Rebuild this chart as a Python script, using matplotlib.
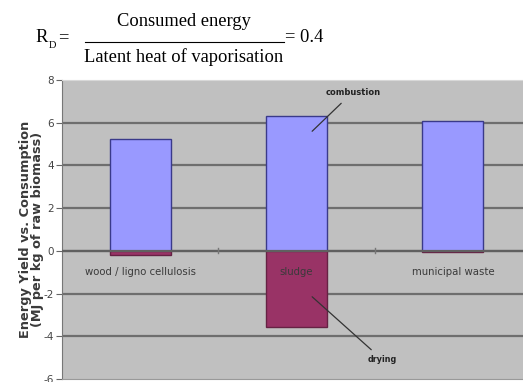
import matplotlib
matplotlib.use("Agg")
import matplotlib.pyplot as plt
import numpy as np

categories = ["wood / ligno cellulosis", "sludge", "municipal waste"]
combustion = [5.25, 6.32, 6.08]
drying = [-0.2, -3.55, -0.05]
yticks = [-6, -4, -2, 0, 2, 4, 6, 8]

W, H = 523, 382
fig = plt.figure(figsize=(W / 100, H / 100), dpi=100)
fig.patch.set_facecolor("white")

def fx(px):
    return px / W

def fy(py):
    return 1 - py / H

ax = fig.add_axes([fx(62), fy(379), fx(531) - fx(62), fy(80) - fy(379)])
ax.set_facecolor("#c0c0c0")
x = np.arange(len(categories))
ax.bar(x, combustion, width=0.39, color="#9999ff", edgecolor="#3a3a8a", linewidth=1.0, zorder=3)
ax.bar(x, drying, width=0.39, color="#993366", edgecolor="#662244", linewidth=1.0, zorder=3)
ax.set_xlim(-0.5, 2.5)
ax.set_ylim(-6, 8)
ax.set_yticks(yticks)
ax.set_yticklabels([str(v) for v in yticks], fontsize=7.5, color="#444444")
ax.tick_params(axis="y", length=4, color="#666666", pad=1.5)
ax.set_xticks([])
for v in yticks[1:-1]:
    ax.axhline(v, color="#6e6e6e", linewidth=1.6, zorder=1)
ax.axhline(0, color="#606060", linewidth=1.6, zorder=4)
for b in [0.5, 1.5]:
    ax.plot([b, b], [-0.12, 0.12], color="#777777", linewidth=1, zorder=4)
for s in ["top", "right"]:
    ax.spines[s].set_color("#d8d8d8")
ax.spines["left"].set_color("#777777")
ax.spines["bottom"].set_color("#999999")

for i, c in enumerate(categories):
    ax.text(i, -1.0, c, ha="center", va="center", fontsize=7.3, color="#3a3a3a", zorder=5)

ax.set_ylabel("Energy Yield vs. Consumption\n(MJ per kg of raw biomass)", fontsize=9.3,
              fontweight="bold", color="#3a3a3a", labelpad=0, linespacing=0.9)

ax.annotate("combustion", xy=(1.1, 5.6), xytext=(1.36, 7.43), fontsize=6, fontweight="bold",
            ha="center", va="center", color="#222222",
            arrowprops=dict(arrowstyle="-", color="#333333", lw=0.9, shrinkA=4, shrinkB=0), zorder=6)
ax.annotate("drying", xy=(1.1, -2.15), xytext=(1.55, -5.1), fontsize=5.8, fontweight="bold",
            ha="center", va="center", color="#222222",
            arrowprops=dict(arrowstyle="-", color="#333333", lw=0.9, shrinkA=3, shrinkB=0), zorder=6)

serif = "Liberation Serif"
fs = 13.3
fig.text(fx(35), fy(38), "R", fontsize=fs, family=serif, ha="left", va="center")
fig.text(fx(49), fy(45), "D", fontsize=7.5, family=serif, ha="left", va="center")
fig.text(fx(58), fy(38), "=", fontsize=fs, family=serif, ha="left", va="center")
fig.text(fx(184), fy(22), "Consumed energy", fontsize=fs, family=serif, ha="center", va="center")
fig.add_artist(plt.Line2D([fx(85), fx(284)], [fy(42), fy(42)], color="black", lw=0.8))
fig.text(fx(184), fy(57), "Latent heat of vaporisation", fontsize=fs, family=serif, ha="center", va="center")
fig.text(fx(285), fy(38), "= 0.4", fontsize=fs, family=serif, ha="left", va="center")

fig.savefig("out.png", dpi=100)
